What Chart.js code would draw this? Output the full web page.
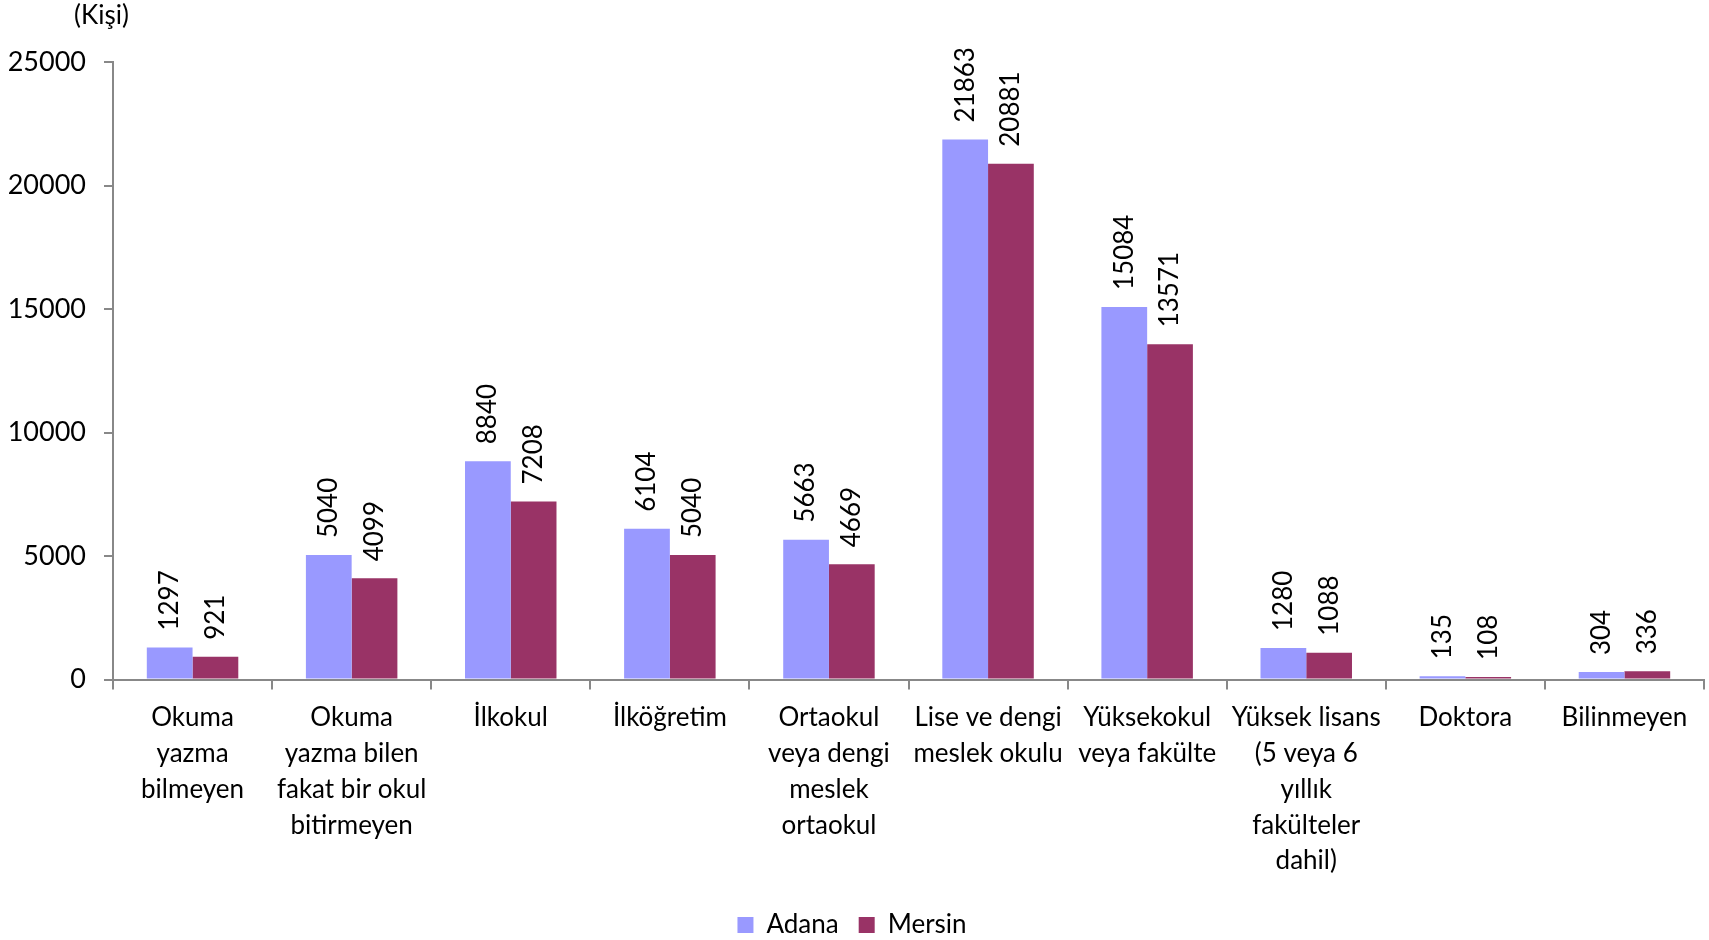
<!DOCTYPE html>
<html>
<head>
<meta charset="utf-8">
<script src="https://cdn.jsdelivr.net/npm/chart.js@4/dist/chart.umd.min.js"></script>
<style>
  html, body { margin: 0; padding: 0; background: #fff; }
</style>
</head>
<body>
<canvas id="grafik" width="1709" height="940"></canvas>
<script>
// Kategoriler (öğrenim durumu)
const kategoriler = [
  ["Okuma", "yazma", "bilmeyen"],
  ["Okuma", "yazma bilen", "fakat bir okul", "bitirmeyen"],
  ["İlkokul"],
  ["İlköğretim"],
  ["Ortaokul", "veya dengi", "meslek", "ortaokul"],
  ["Lise ve dengi", "meslek okulu"],
  ["Yüksekokul", "veya fakülte"],
  ["Yüksek lisans", "(5 veya 6", "yıllık", "fakülteler", "dahil)"],
  ["Doktora"],
  ["Bilinmeyen"]
];
const adana = [1297, 5040, 8840, 6104, 5663, 21863, 15084, 1280, 135, 304];
const mersin = [921, 4099, 7208, 5040, 4669, 20881, 13571, 1088, 108, 336];
const yEtiketleri = [0, 5000, 10000, 15000, 20000, 25000];

const FONT = "Lato, 'Open Sans', sans-serif";

// Çubukların üstüne dikey değer yazısı
const degerEtiketleri = {
  id: "degerEtiketleri",
  afterDatasetsDraw(chart) {
    const ctx = chart.ctx;
    ctx.save();
    ctx.font = "26px " + FONT;
    ctx.fillStyle = "#000";
    ctx.textAlign = "left";
    ctx.textBaseline = "middle";
    chart.data.datasets.forEach(function (ds, i) {
      chart.getDatasetMeta(i).data.forEach(function (bar, j) {
        ctx.save();
        ctx.translate(bar.x, bar.y - 17);
        ctx.rotate(-Math.PI / 2);
        ctx.fillText(String(ds.data[j]), 0, 0);
        ctx.restore();
      });
    });
    ctx.restore();
  }
};

// Sol üstteki birim yazısı
const birimYazisi = {
  id: "birimYazisi",
  afterDraw(chart) {
    const ctx = chart.ctx;
    ctx.save();
    ctx.font = "26px " + FONT;
    ctx.fillStyle = "#000";
    ctx.textAlign = "left";
    ctx.textBaseline = "middle";
    ctx.fillText("(Kişi)", 74, 16);
    ctx.restore();
  }
};

const ctx = document.getElementById("grafik").getContext("2d");
new Chart(ctx, {
  type: "bar",
  data: {
    labels: kategoriler,
    datasets: [
      { label: "Adana", data: adana, backgroundColor: "#9999FF" },
      { label: "Mersin", data: mersin, backgroundColor: "#993366" }
    ]
  },
  options: {
    responsive: false,
    animation: false,
    layout: { padding: { top: 62, right: 5, left: 0, bottom: -8 } },
    datasets: { bar: { categoryPercentage: 0.575, barPercentage: 1 } },
    plugins: {
      legend: {
        position: "bottom",
        labels: {
          font: { family: FONT, size: 26 },
          color: "#000",
          boxWidth: 16,
          boxHeight: 16,
          padding: 20
        }
      },
      tooltip: { enabled: false }
    },
    scales: {
      x: {
        afterFit(scale) { scale.height += 3; },
        grid: {
          drawOnChartArea: false,
          drawTicks: true,
          tickLength: 10,
          color: "#888",
          lineWidth: 2
        },
        border: { color: "#888", width: 2 },
        ticks: {
          maxRotation: 0,
          autoSkip: false,
          color: "#000",
          padding: 10,
          font: { family: FONT, size: 26, lineHeight: 1.38 }
        }
      },
      y: {
        min: 0,
        max: 25000,
        afterFit(scale) { scale.width = 113; },
        afterBuildTicks(axis) {
          axis.ticks = yEtiketleri.map(function (v) { return { value: v }; });
        },
        grid: {
          drawOnChartArea: false,
          drawTicks: true,
          tickLength: 9,
          color: "#888",
          lineWidth: 2
        },
        border: { color: "#888", width: 2 },
        ticks: {
          color: "#000",
          padding: 18,
          font: { family: FONT, size: 27 },
          callback: function (v) { return String(v); }
        }
      }
    }
  },
  plugins: [degerEtiketleri, birimYazisi]
});
</script>
</body>
</html>
